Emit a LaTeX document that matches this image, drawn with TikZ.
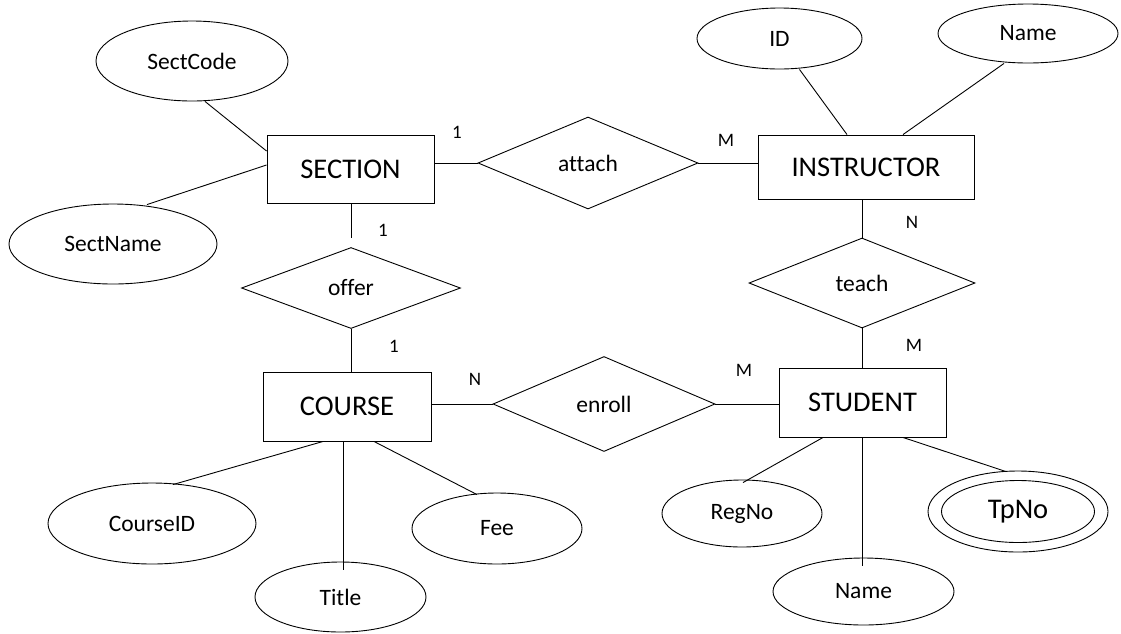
\documentclass[tikz,border=0pt]{standalone}
\usepackage{fontspec}
\setmainfont[Ligatures=NoCommon]{Carlito}
\usetikzlibrary{shapes.geometric,calc}

\begin{document}
\begin{tikzpicture}[x=1pt,y=-1pt,line width=0.9pt,
    entity/.style={draw, rectangle, inner sep=0pt, font=\fontsize{28.5}{32}\selectfont},
    attr/.style={draw, ellipse, inner sep=0pt, font=\fontsize{23.5}{27}\selectfont},
    rel/.style={draw, diamond, inner sep=0pt, font=\fontsize{23.5}{27}\selectfont},
    card/.style={inner sep=0pt, font=\fontsize{19}{22}\selectfont}]
    \useasboundingbox (0,0) rectangle (1121,633);

    % Entities
    \node[entity, minimum width=167, minimum height=68] (section) at (350.5,169) {SECTION};
    \node[entity, minimum width=216, minimum height=64] (instructor) at (866,167) {INSTRUCTOR};
    \node[entity, minimum width=168, minimum height=69] (course) at (347,406.5) {COURSE};
    \node[entity, minimum width=167, minimum height=69] (student) at (862.5,402.5) {STUDENT};

    % Relationships
    \node[rel, minimum width=220, minimum height=92] (attach) at (588,163) {attach};
    \node[rel, minimum width=219, minimum height=81] (offer) at (351,288) {offer};
    \node[rel, minimum width=226, minimum height=90] (teach) at (862,283) {teach};
    \node[rel, minimum width=222, minimum height=95] (enroll) at (604,404) {enroll};

    % Attributes
    \node[attr, minimum width=192, minimum height=80] (sectcode) at (192,61) {SectCode};
    \node[attr, minimum width=208, minimum height=80] (sectname) at (113,244) {SectName};
    \node[attr, minimum width=165, minimum height=61] (id) at (779.5,38.5) {ID};
    \node[attr, minimum width=180, minimum height=59] (iname) at (1028,33.5) {Name};
    \node[attr, minimum width=208, minimum height=81] (courseid) at (152,523.5) {CourseID};
    \node[attr, minimum width=171, minimum height=70] (title) at (340.5,597) {Title};
    \node[attr, minimum width=170, minimum height=71] (fee) at (497,528.5) {Fee};
    \node[attr, minimum width=160, minimum height=67] (regno) at (742,513.5) {RegNo};
    \node[attr, minimum width=181, minimum height=67] (sname) at (863.5,591.5) {Name};
    \node[attr, minimum width=180, minimum height=81, font=\fontsize{28.5}{32}\selectfont] (tpno) at (1018,511.5) {TpNo};
    \node[attr, minimum width=153, minimum height=62] (tpnoin) at (tpno.center) {};

    % Connectors
    \draw ($(sectcode.south)+(13,0)$) -- ($(section.west)+(0,-18)$);
    \draw ($(sectname.north)+(34,1)$) -- ($(section.west)+(0,-4)$);
    \draw (attach.west) -- (attach.west -| section.east);
    \draw (attach.east) -- (attach.east -| instructor.west);
    \draw ($(id.south)+(20,0)$) -- ($(instructor.north)+(-19,0)$);
    \draw ($(iname.south)+(-24,0)$) -- ($(instructor.north)+(37,0)$);
    \draw (teach.north) -- (teach.north |- instructor.south);
    \draw (teach.south) -- (teach.south |- student.north);
    \draw (offer.north |- section.south) -- ($(offer.north)+(0,-9)$);
    \draw (offer.south) -- (offer.south |- course.north);
    \draw (enroll.west -| course.east) -- (enroll.west);
    \draw (enroll.east) -- (enroll.east -| student.west);
    \draw ($(course.south)+(-24,0)$) -- ($(courseid.north)+(21,2)$);
    \draw ($(course.south)+(-4,0)$) -- ($(title.north)+(2.5,8)$);
    \draw ($(course.south)+(27,0)$) -- ($(fee.north)+(-20,2)$);
    \draw ($(student.south)+(-39.5,0)$) -- ($(regno.north)+(1,3)$);
    \draw (student.south) -- ($(sname.north)+(-1,8)$);
    \draw ($(student.south)+(40.5,0)$) -- ($(tpno.north)+(-12,1)$);

    % Cardinalities
    \node[card] (c1) at (457,132) {1};
    \node[card] (c2) at (726,140) {M};
    \node[card] (c3) at (383,230) {1};
    \node[card] (c4) at (394,346) {1};
    \node[card] (c5) at (475,379) {N};
    \node[card] (c6) at (744,370) {M};
    \node[card] (c7) at (912,222) {N};
    \node[card] (c8) at (914,345) {M};
\end{tikzpicture}
\end{document}
